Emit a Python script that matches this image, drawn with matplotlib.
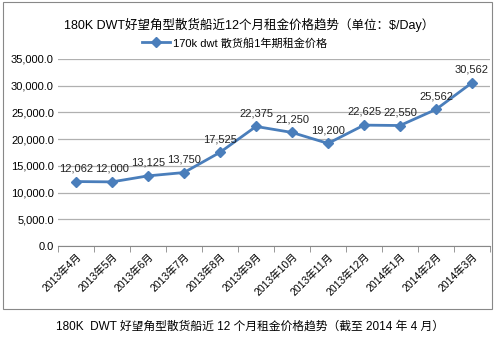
import numpy as np
import matplotlib.pyplot as plt
from matplotlib.patches import Rectangle

plt.rcParams['font.family'] = ['Liberation Sans', 'Noto Sans CJK SC', 'DejaVu Sans']

months = ['2013年4月', '2013年5月', '2013年6月', '2013年7月', '2013年8月', '2013年9月',
          '2013年10月', '2013年11月', '2013年12月', '2014年1月', '2014年2月', '2014年3月']
rates = [12062, 12000, 13125, 13750, 17525, 22375, 21250, 19200, 22625, 22550, 25562, 30562]

fig = plt.figure(figsize=(4.99, 3.42), dpi=100)
ax = fig.add_axes([58 / 499, 1 - 246 / 342, 432 / 499, 187 / 342])

ind = np.arange(len(rates))
ax.plot(ind, rates, color='#4a7ebb', lw=2, marker='D', ms=5,
        label='170k dwt 散货船1年期租金价格')
for i, v in enumerate(rates):
    ax.annotate(f'{v:,}', (i, v), xytext=(0, 6), textcoords='offset points',
                ha='center', va='bottom', fontsize=8, color='#222222')

ax.set_xlim(-0.5, len(rates) - 0.5)
ax.set_ylim(0, 35000)
ax.set_yticks(np.arange(0, 35001, 5000))
ax.set_yticklabels([f'{v:,.1f}' for v in np.arange(0, 35001, 5000)], fontsize=8)
ax.set_xticks(ind)
ax.set_xticklabels(months, rotation=45, ha='right', rotation_mode='anchor', fontsize=7.5)
ax.set_xticks(np.arange(-0.5, len(rates)), minor=True)
ax.tick_params(axis='x', which='major', length=0, pad=4)
ax.tick_params(axis='x', which='minor', length=4, color='#888888')
ax.tick_params(axis='y', length=0, pad=3)
ax.grid(axis='y', color='#b0b0b0', lw=0.9)
ax.set_axisbelow(True)
for s in ['top', 'right', 'left']:
    ax.spines[s].set_visible(False)
ax.spines['bottom'].set_color('#888888')

fig.text(0.5, 1 - 25 / 342, '180K DWT好望角型散货船近12个月租金价格趋势（单位：$/Day）',
         ha='center', va='center', fontsize=9)
ax.legend(loc='center', bbox_to_anchor=(0.47, 1 - 43 / 342), bbox_transform=fig.transFigure,
          frameon=False, fontsize=8, handlelength=2.5, borderpad=0, handletextpad=0.3)

fig.patches.append(Rectangle((3 / 499, 1 - 309 / 342), 489 / 499, 307 / 342,
                             transform=fig.transFigure, fill=False, ec='#888888', lw=0.8))
fig.text(0.5, 1 - 327 / 342, '180K  DWT 好望角型散货船近 12 个月租金价格趋势（截至 2014 年 4 月）',
         ha='center', va='center', fontsize=8.5)

fig.savefig('out.png', dpi=100)
